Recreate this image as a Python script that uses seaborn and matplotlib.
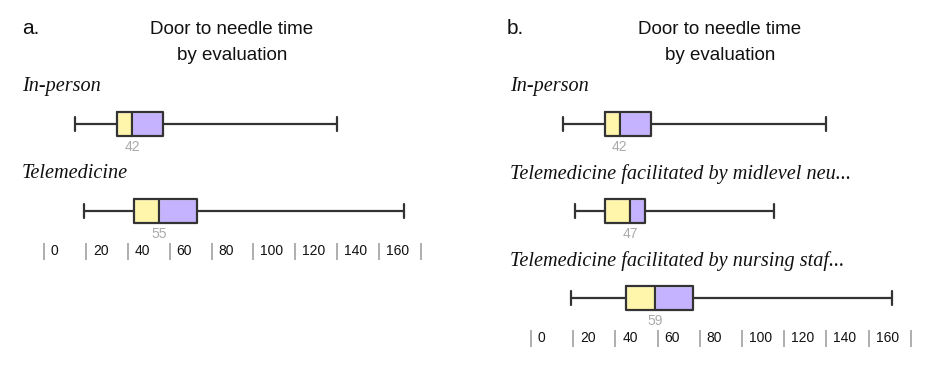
import matplotlib
matplotlib.use("Agg")
import matplotlib.pyplot as plt
import matplotlib.transforms as mtransforms
import seaborn as sns
import pandas as pd

# Five-number summaries (minutes)
groups_a = ["In-person", "Telemedicine"]
mins_a = [15, 19]
q1s_a = [35, 43]
medians_a = [42, 55]
q3s_a = [57, 73]
maxs_a = [140, 172]

groups_b = ["In-person",
            "Telemedicine facilitated by midlevel neu...",
            "Telemedicine facilitated by nursing staf..."]
mins_b = [15, 21, 19]
q1s_b = [35, 35, 45]
medians_b = [42, 47, 59]
q3s_b = [57, 54, 77]
maxs_b = [140, 115, 171]

tick_values = [0, 20, 40, 60, 80, 100, 120, 140, 160, 180]
tick_labels = ["0", "20", "40", "60", "80", "100", "120", "140", "160", ""]

YELLOW = "#FFF5AB"
PURPLE = "#C5B3FF"
EDGE = "#333333"

sns.set_style("white")
plt.rcParams["font.family"] = ["Liberation Sans", "DejaVu Sans"]

W, H = 936, 385
fig = plt.figure(figsize=(W / 100, H / 100), dpi=100)

ROW = 87        # px between rows
TOP = 60        # px, top of the axes
FIRST = 124     # px, centre of first box
BELOW = 32      # px from last box centre down to the axis


def draw_panel(left_px, zero_px, px_per_unit, groups, mins, q1s, meds, q3s, maxs):
    n = len(groups)
    bottom_px = FIRST + ROW * (n - 1) + BELOW
    right_px = left_px + 430
    ax = fig.add_axes([left_px / W, 1 - bottom_px / H,
                       (right_px - left_px) / W, (bottom_px - TOP) / H])

    rows = []
    for g, a, b, c, d, e in zip(groups, mins, q1s, meds, q3s, maxs):
        for v in (a, b, c, d, e):
            rows.append({"group": g, "minutes": v})
    df = pd.DataFrame(rows)

    # coloured halves of the box
    pos = list(range(n))
    lower = [m - q for m, q in zip(meds, q1s)]
    upper = [q - m for m, q in zip(meds, q3s)]
    ax.barh(pos, lower, left=q1s, height=0.265, color=YELLOW, zorder=0.5)
    ax.barh(pos, upper, left=meds, height=0.265, color=PURPLE, zorder=0.5)

    sns.boxplot(data=df, x="minutes", y="group", order=groups, orient="h",
                whis=(0, 100), width=0.265, fill=False, color=EDGE,
                linewidth=1.6, capwidths=0.16, ax=ax)

    for i, (g, m) in enumerate(zip(groups, meds)):
        ax.text(0, i - 37 / ROW, g, transform=ax.get_yaxis_transform(),
                ha="left", va="center", fontsize=14.6, style="italic",
                family=["Liberation Serif", "DejaVu Serif"], color="#111111")
        ax.text(m, i + 23 / ROW, str(m), ha="center", va="center",
                fontsize=10, color="#aaaaaa")

    xmin = -(zero_px - left_px) / px_per_unit
    xmax = (right_px - zero_px) / px_per_unit
    ax.set_xlim(xmin, xmax)
    ax.set_ylim(n - 1 + BELOW / ROW, -(FIRST - TOP) / ROW)

    ax.set_yticks([])
    ax.set_ylabel("")
    ax.set_xlabel("")
    ax.set_xticks(tick_values)
    ax.set_xticklabels(tick_labels)
    ax.tick_params(axis="x", bottom=True, direction="out", length=12, width=1.1,
                   color="#999999", pad=-11, labelsize=10,
                   labelcolor="#111111")
    offset = mtransforms.ScaledTranslation(5 / 72, 0, fig.dpi_scale_trans)
    for lab in ax.get_xticklabels():
        lab.set_horizontalalignment("left")
        lab.set_transform(lab.get_transform() + offset)
    for s in ax.spines.values():
        s.set_visible(False)
    ax.patch.set_alpha(0)
    return ax


draw_panel(22, 44, 2.095, groups_a, mins_a, q1s_a, medians_a, q3s_a, maxs_a)
draw_panel(510, 531, 2.11, groups_b, mins_b, q1s_b, medians_b, q3s_b, maxs_b)

# panel letters and titles
for letter, lx, tx in (("a.", 22, 232), ("b.", 507, 720)):
    fig.text(lx / W, 1 - 28 / H, letter, fontsize=15, ha="left", va="center",
             color="#111111")
    fig.text(tx / W, 1 - 30 / H, "Door to needle time", fontsize=13.5,
             ha="center", va="center", color="#111111")
    fig.text(tx / W, 1 - 55 / H, "by evaluation", fontsize=13.5,
             ha="center", va="center", color="#111111")

fig.savefig("out.png", dpi=100, facecolor="white")
